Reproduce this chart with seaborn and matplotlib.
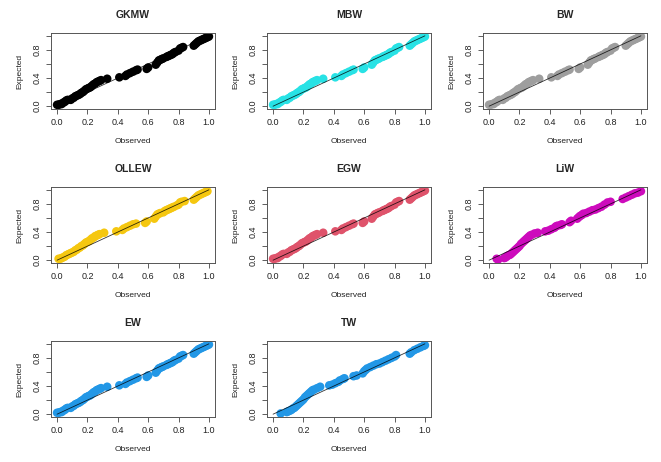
import numpy as np
import pandas as pd
import matplotlib
matplotlib.use("Agg")
import matplotlib.pyplot as plt
import seaborn as sns

sns.set_style("white")
plt.rcParams['font.family'] = ['Liberation Sans', 'DejaVu Sans']

# ---- data ----
models = ["GKMW", "MBW", "BW", "OLLEW", "EGW", "LiW", "EW", "TW"]
colors = ["#000000", "#28E2E5", "#9E9E9E", "#F5C710", "#DF536B", "#CD0BBC", "#2297E6", "#2297E6"]

obs_a = [0.00, 0.01, 0.02, 0.03, 0.04, 0.05, 0.06, 0.07, 0.09, 0.10, 0.11, 0.12, 0.13, 0.14,
         0.15, 0.16, 0.17, 0.18, 0.19, 0.20, 0.21, 0.22, 0.23, 0.24, 0.25, 0.26, 0.27, 0.28,
         0.29, 0.33, 0.41, 0.45, 0.46, 0.48, 0.50, 0.52, 0.53, 0.59, 0.60, 0.65, 0.66, 0.67,
         0.68, 0.69, 0.70, 0.72, 0.73, 0.74, 0.75, 0.76, 0.77, 0.78, 0.80, 0.81, 0.82, 0.83,
         0.90, 0.91, 0.92, 0.93, 0.94, 0.95, 0.96, 0.97, 0.98, 0.99, 1.00]
exp_a = [0.02, 0.02, 0.03, 0.03, 0.05, 0.06, 0.08, 0.09, 0.09, 0.11, 0.12, 0.14, 0.15, 0.16,
         0.17, 0.19, 0.20, 0.22, 0.24, 0.25, 0.26, 0.27, 0.29, 0.31, 0.32, 0.34, 0.35, 0.36,
         0.37, 0.39, 0.41, 0.43, 0.45, 0.47, 0.49, 0.51, 0.52, 0.53, 0.55, 0.59, 0.62, 0.65,
         0.66, 0.67, 0.68, 0.70, 0.71, 0.72, 0.73, 0.74, 0.76, 0.77, 0.79, 0.82, 0.83, 0.84,
         0.86, 0.88, 0.90, 0.92, 0.93, 0.94, 0.95, 0.96, 0.97, 0.98, 0.99]

obs_olle = [0.01, 0.02, 0.03, 0.04, 0.05, 0.06, 0.07, 0.08, 0.09, 0.10, 0.11, 0.12, 0.13, 0.14,
            0.15, 0.16, 0.17, 0.18, 0.19, 0.20, 0.21, 0.22, 0.23, 0.24, 0.25, 0.26, 0.27, 0.28,
            0.31, 0.39, 0.43, 0.44, 0.46, 0.48, 0.50, 0.52, 0.58, 0.59, 0.64, 0.65, 0.66, 0.67,
            0.68, 0.70, 0.71, 0.72, 0.73, 0.74, 0.75, 0.76, 0.77, 0.79, 0.80, 0.81, 0.82, 0.84,
            0.90, 0.91, 0.92, 0.93, 0.94, 0.95, 0.96, 0.97, 0.98, 0.99]
exp_olle = [0.02, 0.02, 0.03, 0.04, 0.05, 0.07, 0.08, 0.09, 0.10, 0.11, 0.12, 0.14, 0.15, 0.17,
            0.18, 0.20, 0.21, 0.23, 0.25, 0.26, 0.27, 0.29, 0.31, 0.32, 0.34, 0.35, 0.36, 0.37,
            0.39, 0.41, 0.43, 0.45, 0.47, 0.49, 0.51, 0.52, 0.53, 0.55, 0.59, 0.62, 0.65, 0.66,
            0.67, 0.68, 0.70, 0.71, 0.72, 0.73, 0.74, 0.75, 0.76, 0.78, 0.79, 0.82, 0.83, 0.84,
            0.86, 0.88, 0.90, 0.92, 0.93, 0.94, 0.95, 0.96, 0.97, 0.98]

obs_liw = [0.05, 0.06, 0.10, 0.11, 0.12, 0.13, 0.14, 0.15, 0.16, 0.17, 0.18, 0.19, 0.20, 0.21,
           0.22, 0.23, 0.24, 0.25, 0.26, 0.27, 0.28, 0.30, 0.32, 0.37, 0.39, 0.41, 0.43, 0.44,
           0.45, 0.47, 0.48, 0.53, 0.54, 0.58, 0.59, 0.60, 0.61, 0.62, 0.64, 0.66, 0.68, 0.70,
           0.72, 0.74, 0.76, 0.78, 0.80, 0.88, 0.90, 0.92, 0.94, 0.96, 0.98, 1.00]
exp_liw = [0.02, 0.01, 0.03, 0.04, 0.06, 0.07, 0.08, 0.10, 0.12, 0.14, 0.16, 0.18, 0.20, 0.23,
           0.25, 0.27, 0.29, 0.31, 0.33, 0.35, 0.36, 0.38, 0.39, 0.41, 0.42, 0.44, 0.46, 0.48,
           0.49, 0.50, 0.51, 0.54, 0.56, 0.59, 0.61, 0.63, 0.64, 0.66, 0.67, 0.69, 0.71, 0.72,
           0.74, 0.76, 0.79, 0.82, 0.83, 0.87, 0.89, 0.91, 0.93, 0.95, 0.96, 0.98]

obs_tw = [0.05, 0.09, 0.10, 0.11, 0.12, 0.13, 0.14, 0.15, 0.16, 0.17, 0.18, 0.19, 0.20, 0.21,
          0.22, 0.23, 0.24, 0.25, 0.26, 0.27, 0.29, 0.31, 0.37, 0.39, 0.41, 0.43, 0.44, 0.46,
          0.47, 0.53, 0.55, 0.59, 0.60, 0.61, 0.62, 0.64, 0.66, 0.68, 0.70, 0.72, 0.74, 0.76,
          0.78, 0.80, 0.81, 0.90, 0.91, 0.93, 0.95, 0.97, 0.99, 1.00]
exp_tw = [0.01, 0.03, 0.04, 0.05, 0.06, 0.08, 0.09, 0.11, 0.13, 0.15, 0.17, 0.19, 0.21, 0.24,
          0.26, 0.28, 0.30, 0.32, 0.34, 0.35, 0.37, 0.39, 0.41, 0.42, 0.44, 0.46, 0.48, 0.50,
          0.51, 0.54, 0.55, 0.58, 0.61, 0.63, 0.65, 0.67, 0.69, 0.71, 0.72, 0.74, 0.76, 0.78,
          0.80, 0.82, 0.84, 0.86, 0.88, 0.91, 0.93, 0.95, 0.97, 0.98]

series = {
    "GKMW": (obs_a, exp_a), "MBW": (obs_a, exp_a), "BW": (obs_a, exp_a),
    "OLLEW": (obs_olle, exp_olle), "EGW": (obs_a, exp_a), "LiW": (obs_liw, exp_liw),
    "EW": (obs_a, exp_a), "TW": (obs_tw, exp_tw),
}
diag = [0.0, 1.0]
xticks = [0.0, 0.2, 0.4, 0.6, 0.8, 1.0]
xticklabels = ["0.0", "0.2", "0.4", "0.6", "0.8", "1.0"]
yticks = [0.0, 0.2, 0.4, 0.6, 0.8, 1.0]
yticklabels = ["0.0", "", "0.4", "", "0.8", ""]

W, H = 661, 462
fig = plt.figure(figsize=(W / 100, H / 100), dpi=100)
col_left = [51, 267, 483]
row_top = [33, 187, 341]
aw, ah = 164, 76

for i, m in enumerate(models):
    r, c = divmod(i, 3)
    ax = fig.add_axes([col_left[c] / W, 1 - (row_top[r] + ah) / H, aw / W, ah / H])
    ox, ex = series[m]
    df = pd.DataFrame({"Observed": ox, "Expected": ex})
    sns.scatterplot(data=df, x="Observed", y="Expected", ax=ax, color=colors[i],
                    s=38, linewidth=0, edgecolor="none", zorder=2)
    sns.lineplot(x=diag, y=diag, ax=ax, color="black", linewidth=0.6, zorder=3, alpha=0.8)
    ax.set_xlim(-0.04, 1.04)
    ax.set_ylim(-0.04, 1.04)
    ax.set_xticks(xticks)
    ax.set_xticklabels(xticklabels)
    ax.set_yticks(yticks)
    ax.set_yticklabels(yticklabels, rotation=90, va="center")
    ax.tick_params(axis="both", direction="out", length=3.5, width=0.6, color="#444444",
                   labelsize=6.5, labelcolor="#222222", pad=3, bottom=True, left=True)
    for sp in ax.spines.values():
        sp.set_visible(True)
        sp.set_color("#555555")
        sp.set_linewidth(0.7)
    ax.set_xlabel("Observed", fontsize=6, color="#222222", labelpad=8)
    ax.set_ylabel("Expected", fontsize=6, color="#222222", labelpad=7)
    ax.set_title(m, fontsize=7.5, fontweight="bold", pad=11)

fig.savefig("out.png", dpi=100, facecolor="white")
